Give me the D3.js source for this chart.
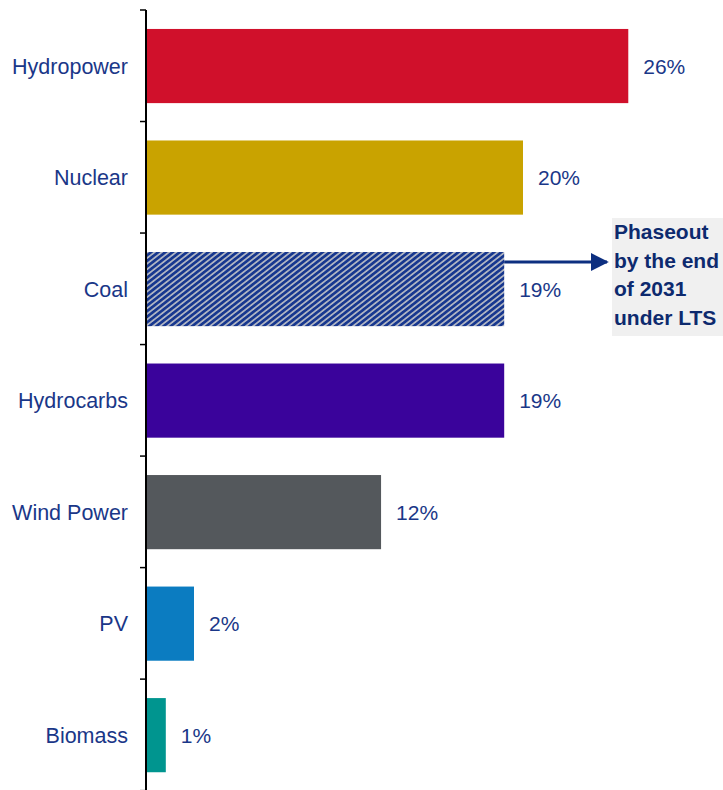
<!DOCTYPE html>
<meta charset="utf-8">
<style>
body { margin: 0; background: #fff; }
text { font-family: "Liberation Sans", Arial, sans-serif; }
</style>
<body>
<script src="https://d3js.org/d3.v7.min.js"></script>
<script>

// data
var categories = ["Hydropower", "Nuclear", "Coal", "Hydrocarbs", "Wind Power", "PV", "Biomass"];
var shares = [25.6, 20.0, 19.0, 19.0, 12.45, 2.5, 1.0];
var shareLabels = ["26%", "20%", "19%", "19%", "12%", "2%", "1%"];
var colors = ["#d0102b", "#c9a300", "hatch", "#3a039b", "#54585c", "#0b7cc1", "#00958f"];
var noteLines = ["Phaseout", "by the end", "of 2031", "under LTS"];

var width = 723, height = 790;
var axisX = 146;
var textColor = "#1a3788";

var svg = d3.select("body").append("svg")
    .attr("width", width)
    .attr("height", height);

var defs = svg.append("defs");

// hatch pattern for coal
var pat = defs.append("pattern")
    .attr("id", "hatch")
    .attr("patternUnits", "userSpaceOnUse")
    .attr("width", 4.4).attr("height", 4.4)
    .attr("patternTransform", "rotate(52)");
pat.append("rect").attr("width", 4.4).attr("height", 4.4).attr("fill", "#b4b8c4");
pat.append("rect").attr("width", 2.7).attr("height", 4.4).attr("fill", "#17378f");

// scales
var y = d3.scaleBand()
    .domain(categories)
    .range([10, 10 + 111.6 * categories.length])
    .paddingInner(0.335)
    .paddingOuter(0.17);

var x = d3.scaleLinear()
    .domain([0, 26])
    .range([axisX + 1, axisX + 1 + 26 * 18.8]);

// bars
svg.selectAll(".bar")
    .data(categories)
  .enter().append("rect")
    .attr("x", x(0))
    .attr("y", function(d) { return y(d); })
    .attr("height", y.bandwidth())
    .attr("width", function(d, i) { return x(shares[i]) - x(0); })
    .attr("fill", function(d, i) { return colors[i] === "hatch" ? "url(#hatch)" : colors[i]; });

// value labels
svg.selectAll(".val")
    .data(categories)
  .enter().append("text")
    .attr("x", function(d, i) { return x(shares[i]) + 15; })
    .attr("y", function(d) { return y(d) + y.bandwidth() / 2; })
    .attr("dy", "0.36em")
    .attr("fill", textColor)
    .style("font-size", "21px")
    .text(function(d, i) { return shareLabels[i]; });

// y axis (labels only)
var axis = svg.append("g")
    .attr("transform", "translate(" + axisX + ",0)")
    .call(d3.axisLeft(y).tickSize(0).tickPadding(18));
axis.select(".domain").remove();
axis.selectAll("text")
    .attr("fill", textColor)
    .attr("dy", "0.36em")
    .style("font-size", "21.5px")
    .style("font-family", "Liberation Sans, Arial, sans-serif");

// axis line and boundary ticks
svg.append("line")
    .attr("x1", axisX).attr("x2", axisX)
    .attr("y1", 10).attr("y2", height)
    .attr("stroke", "#000").attr("stroke-width", 2);

var bounds = d3.range(categories.length + 1).map(function(i) { return 10 + i * y.step(); });
svg.selectAll(".tk")
    .data(bounds)
  .enter().append("line")
    .attr("x1", axisX - 6).attr("x2", axisX)
    .attr("y1", function(d) { return d; })
    .attr("y2", function(d) { return d; })
    .attr("stroke", "#000").attr("stroke-width", 1.5);

// annotation
var coalY = y("Coal") + 10;
defs.append("marker")
    .attr("id", "arrow")
    .attr("viewBox", "0 0 10 10")
    .attr("refX", 9).attr("refY", 5)
    .attr("markerWidth", 6).attr("markerHeight", 6)
    .attr("orient", "auto")
  .append("path")
    .attr("d", "M0,0L10,5L0,10z")
    .attr("fill", "#0d2f80");

svg.append("line")
    .attr("x1", x(shares[2])).attr("x2", 607)
    .attr("y1", coalY).attr("y2", coalY)
    .attr("stroke", "#0d2f80").attr("stroke-width", 3)
    .attr("marker-end", "url(#arrow)");

svg.append("rect")
    .attr("x", 612).attr("y", 218)
    .attr("width", 111).attr("height", 118)
    .attr("fill", "#f0f0f0");

svg.selectAll(".note")
    .data(noteLines)
  .enter().append("text")
    .attr("x", 614)
    .attr("y", function(d, i) { return 239 + i * 28.5; })
    .attr("fill", "#0d2a6e")
    .style("font-size", "21px")
    .style("font-weight", "bold")
    .text(function(d) { return d; });

</script>
</body>
